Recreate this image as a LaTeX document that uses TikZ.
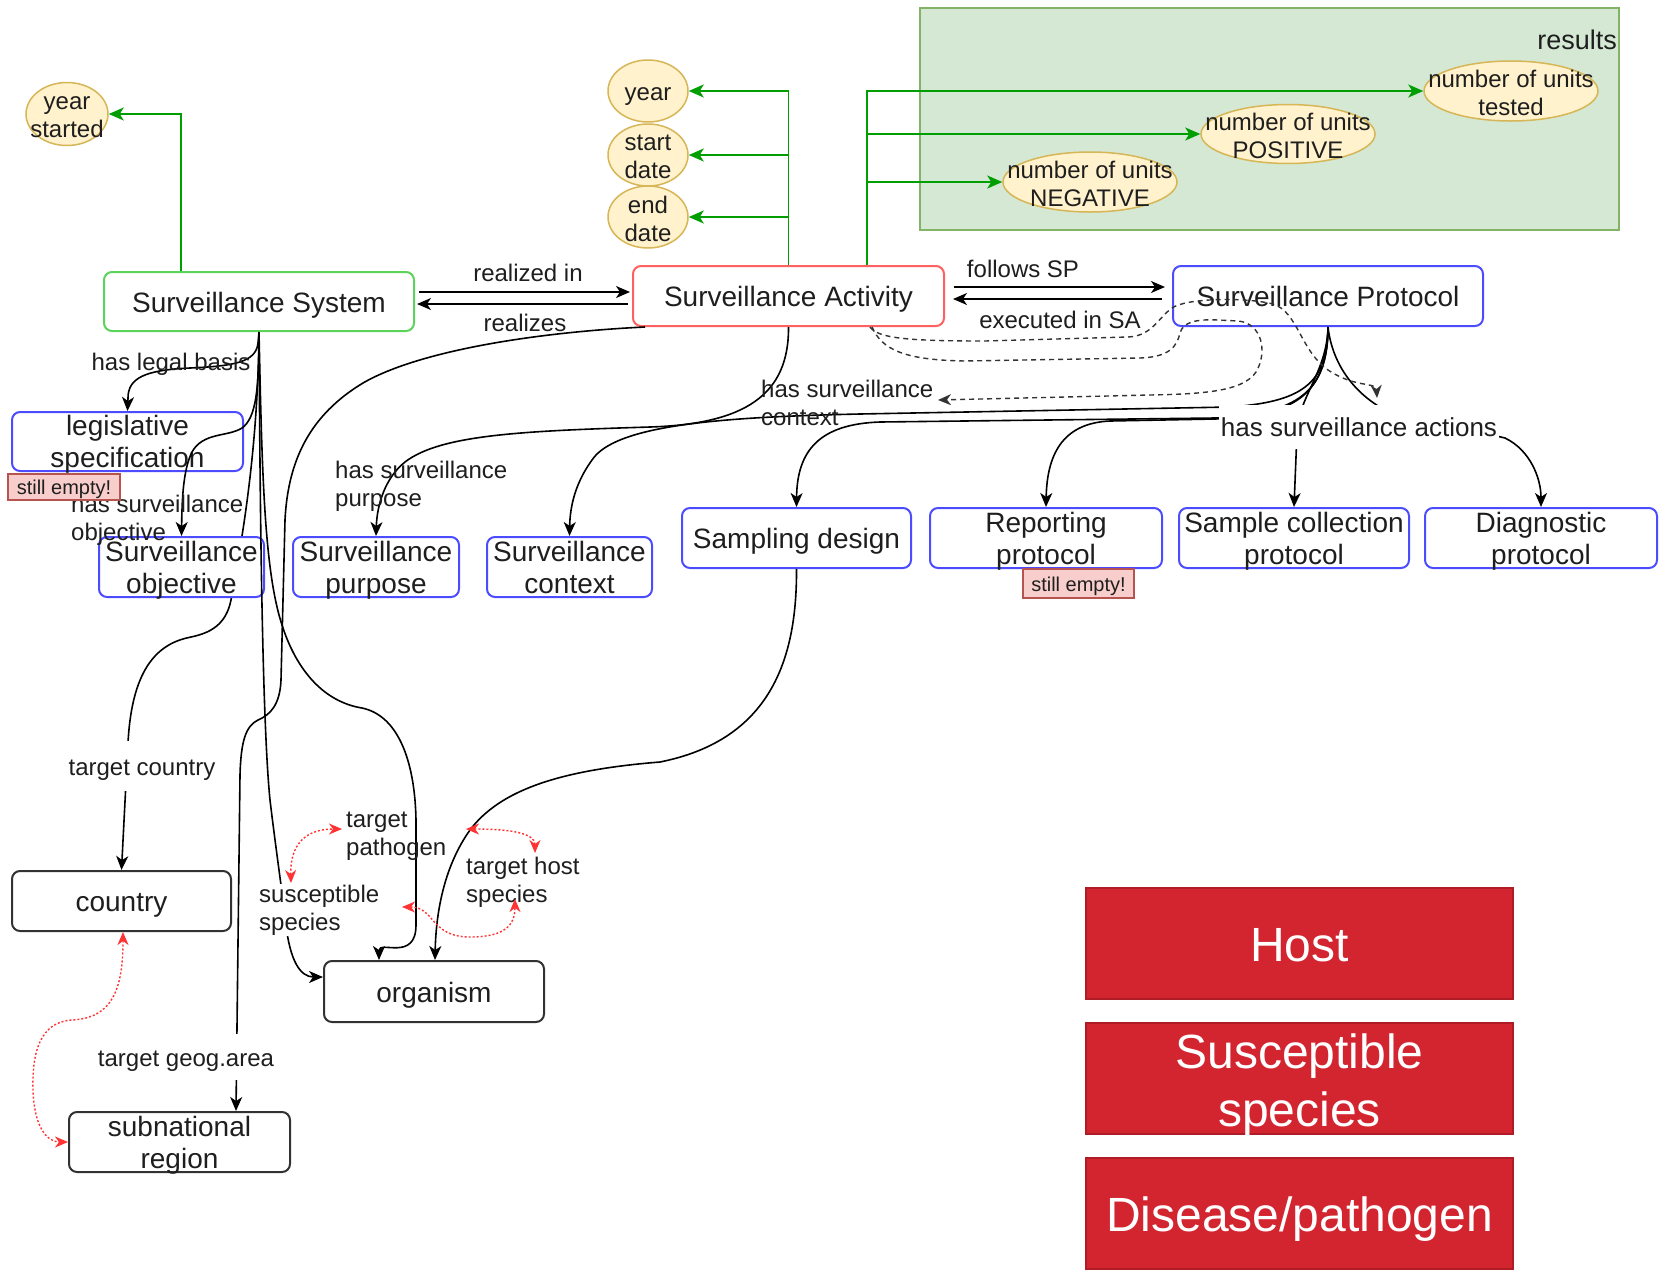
\documentclass[tikz,border=0pt]{standalone}
\usepackage{fontspec}
\setmainfont{Liberation Sans}
\usetikzlibrary{arrows.meta,calc,shapes.geometric}

\definecolor{ssgreen}{RGB}{92,212,92}
\definecolor{sared}{RGB}{255,96,96}
\definecolor{spblue}{RGB}{76,76,255}
\definecolor{entdraw}{RGB}{50,50,50}
\definecolor{edgegreen}{RGB}{0,158,0}
\definecolor{attrfill}{RGB}{255,242,204}
\definecolor{attrdraw}{RGB}{214,182,86}
\definecolor{resfill}{RGB}{213,232,212}
\definecolor{resdraw}{RGB}{130,179,102}
\definecolor{notefill}{RGB}{248,206,204}
\definecolor{notedraw}{RGB}{184,84,80}
\definecolor{catfill}{RGB}{211,37,48}
\definecolor{catdraw}{RGB}{176,28,38}
\definecolor{linkred}{RGB}{255,51,51}
\definecolor{ink}{RGB}{30,30,30}

% a strut of full line height, so that one-line text is centred on its line box
\newcommand{\linestrut}{\rule[-0.25em]{0pt}{1.25em}}

\tikzset{
  txt/.style={execute at begin node=\linestrut},
  box/.style={rectangle, rounded corners=8pt, draw, line width=2pt, fill=white,
    text=ink, align=center, inner sep=0pt, txt, font=\fontsize{28}{32}\selectfont},
  boxtxt/.style={align=center, text=ink, inner sep=0pt, yshift=-3pt,
    font=\fontsize{28}{32}\selectfont},
  sysbox/.style={box, draw=ssgreen},
  actbox/.style={box, draw=sared},
  protbox/.style={box, draw=spblue},
  entbox/.style={box, draw=entdraw},
  attr/.style={ellipse, draw=attrdraw, fill=attrfill, line width=1.5pt, inner sep=0pt},
  attrtxt/.style={align=center, text=ink, inner sep=0pt, txt, font=\fontsize{24}{28}\selectfont},
  attrtxt2/.style={align=center, text=ink, inner sep=0pt, yshift=-1.5pt, font=\fontsize{24}{28}\selectfont},
  lbl/.style={text=ink, inner sep=1pt, txt, font=\fontsize{24}{28}\selectfont},
  mlbl/.style={text=ink, inner sep=1pt, align=left, anchor=west, font=\fontsize{24}{28}\selectfont},
  panel/.style={rectangle, draw=resdraw, fill=resfill, line width=1.5pt, inner sep=0pt},
  note/.style={rectangle, draw=notedraw, fill=notefill, line width=1.2pt, text=ink,
    inner sep=0pt, txt, font=\fontsize{20}{24}\selectfont},
  cat/.style={rectangle, draw=catdraw, fill=catfill, line width=1.5pt, text=white,
    align=center, inner sep=0pt, minimum width=427pt, minimum height=111pt, txt,
    font=\fontsize{48}{58}\selectfont},
  cattxt/.style={align=center, text=white, inner sep=0pt, yshift=-7pt,
    font=\fontsize{48}{58}\selectfont},
  rel/.style={draw=black, line width=1.6pt, -{Stealth[length=14pt,width=12pt,inset=4pt]}},
  attrlink/.style={draw=edgegreen, line width=1.8pt, -{Stealth[length=15pt,width=13pt,inset=4pt]}},
  dashlink/.style={draw=black!80, line width=1.4pt, dash pattern=on 5pt off 4pt,
    -{Stealth[length=13pt,width=11pt,inset=4pt]}},
  redlink/.style={draw=linkred, line width=1.4pt, dash pattern=on 2pt off 2pt,
    {Stealth[length=13pt,width=11pt,inset=4pt]}-{Stealth[length=13pt,width=11pt,inset=4pt]}},
}

\begin{document}
\begin{tikzpicture}[x=1pt,y=-1pt]
\fill[white] (0,0) rectangle (1665,1275);
\useasboundingbox (0,0) rectangle (1665,1275);

% results panel
\node[panel, minimum width=699pt, minimum height=222pt] (res) at (1269.5,119) {};
\node[lbl, anchor=east, font=\fontsize{27}{30}\selectfont] (restitle) at (1618,39) {results};

% main classes
\node[sysbox, minimum width=310pt, minimum height=59pt] (ss) at (259,301.5) {Surveillance System};
\node[actbox, minimum width=311pt, minimum height=60pt] (sa) at (788.5,296) {Surveillance Activity};
\node[protbox, minimum width=310pt, minimum height=60pt] (sp) at (1328,296) {Surveillance Protocol};
\node[entbox, minimum width=219pt, minimum height=60pt] (cty) at (121.5,901) {country};

% target country runs behind the objective box
\draw[rel] (ss.south) .. controls (258,450) and (242,540) .. (231,600)
  .. controls (226,625) and (210,633) .. (191,637)
  .. controls (160,643) and (132,665) .. (128,743) -- (cty.north);

\node[protbox, minimum width=231pt, minimum height=59pt, label={[boxtxt]center:legislative\\specification}] (leg) at (127.5,441.5) {};
\node[protbox, minimum width=165pt, minimum height=60pt, label={[boxtxt]center:Surveillance\\objective}] (obj) at (181.5,567) {};
\node[protbox, minimum width=166pt, minimum height=60pt, label={[boxtxt]center:Surveillance\\purpose}] (pur) at (376,567) {};
\node[protbox, minimum width=165pt, minimum height=60pt, label={[boxtxt, yshift=3pt]center:Surveillance\\context}] (ctx) at (569.5,567) {};
\node[protbox, minimum width=229pt, minimum height=60pt] (sd) at (796.5,538) {Sampling design};
\node[protbox, minimum width=232pt, minimum height=60pt, label={[boxtxt]center:Reporting\\protocol}] (rp) at (1046,538) {};
\node[protbox, minimum width=230pt, minimum height=60pt, label={[boxtxt]center:Sample collection\\protocol}] (scp) at (1294,538) {};
\node[protbox, minimum width=232pt, minimum height=60pt, label={[boxtxt]center:Diagnostic\\protocol}] (dp) at (1541,538) {};
\node[entbox, minimum width=220pt, minimum height=61pt] (org) at (434,991.5) {organism};
\node[entbox, minimum width=221pt, minimum height=60pt, label={[boxtxt]center:subnational\\region}] (sub) at (179.5,1142) {};

% attributes
\node[attr, minimum width=82pt, minimum height=63pt, label={[attrtxt2, yshift=-2pt]center:year\\started}] (ys) at (67,114) {};
\node[attr, minimum width=80pt, minimum height=62pt, label={[attrtxt]center:year}] (yr) at (648,91) {};
\node[attr, minimum width=80pt, minimum height=62pt, label={[attrtxt2]center:start\\date}] (sdt) at (648,155) {};
\node[attr, minimum width=80pt, minimum height=62pt, label={[attrtxt2]center:end\\date}] (edt) at (648,217) {};
\node[attr, minimum width=174pt, minimum height=60pt, label={[attrtxt2]center:number of units\\tested}] (nt) at (1511,91) {};
\node[attr, minimum width=174pt, minimum height=59pt, label={[attrtxt2]center:number of units\\POSITIVE}] (np) at (1288,134) {};
\node[attr, minimum width=174pt, minimum height=60pt, label={[attrtxt2]center:number of units\\NEGATIVE}] (nn) at (1090,182) {};

% attribute links
\draw[attrlink] ([xshift=-78pt]ss.north) |- (ys);
\draw[attrlink] (sa.north) |- (yr);
\draw[attrlink] (sa.north) |- (sdt);
\draw[attrlink] (sa.north) |- (edt);
\draw[attrlink] ([xshift=78.5pt]sa.north) |- (nt);
\draw[attrlink] ([xshift=78.5pt]sa.north) |- (np);
\draw[attrlink] ([xshift=78.5pt]sa.north) |- (nn);

% straight relations between the three main classes
\draw[rel, shorten <=4pt, shorten >=2pt] (ss.east |- 0,292) -- (sa.west |- 0,292);
\draw[rel, shorten <=4pt, shorten >=2pt] (sa.west |- 0,304) -- (ss.east |- 0,304);
\draw[rel, shorten <=9pt, shorten >=7pt] (sa.east |- 0,287) -- (sp.west |- 0,287);
\draw[rel, shorten <=10pt, shorten >=8pt] (sp.west |- 0,299) -- (sa.east |- 0,299);

% relations of the surveillance system
\draw[rel] (ss.south) -- (258,343) .. controls (256,362) and (235,366) .. (190,368)
  .. controls (145,370) and (128,378) .. (128,398) -- (leg.north);
\draw[rel] (ss.south) .. controls (259,390) and (256,418) .. (242,428)
  .. controls (228,437) and (203,432) .. (192,452)
  .. controls (183,470) and (182,500) .. (obj.north);
\draw[rel] (ss.south) .. controls (260,500) and (262,720) .. (270,800)
  .. controls (276,850) and (282,890) .. (286,925)
  .. controls (290,960) and (300,977) .. (org.west |- 0,977);
\draw[rel] (ss.south) .. controls (262,470) and (264,570) .. (282,625)
  .. controls (297,672) and (325,702) .. (362,708)
  .. controls (400,716) and (415,765) .. (416,820) -- (416,925)
  .. controls (416,962) and (379,940) .. (org.north -| 379,0);

% relations of the surveillance activity
\draw[rel] (sa.south -| 645,0) .. controls (540,332) and (420,350) .. (363,383)
  .. controls (310,415) and (288,460) .. (285,520) -- (281,680)
  .. controls (280,705) and (270,715) .. (258,720)
  .. controls (246,726) and (241,740) .. (240,775) -- (sub.north -| 236,0);
\draw[rel] (sa.south) .. controls (789,395) and (745,424) .. (650,427)
  .. controls (520,431) and (440,435) .. (405,462)
  .. controls (385,478) and (377,505) .. (pur.north);

% relations of the surveillance protocol
\draw[rel] (sp.south) .. controls (1328,385) and (1300,402) .. (1230,407) -- (860,414)
  .. controls (720,417) and (615,425) .. (592,460)
  .. controls (576,482) and (570,505) .. (ctx.north);
\draw[rel] (sp.south) .. controls (1328,392) and (1298,414) .. (1215,418) -- (880,422)
  .. controls (820,424) and (797,450) .. (sd.north);
\draw[rel] (sp.south) .. controls (1327,394) and (1296,416) .. (1215,419) -- (1110,421)
  .. controls (1066,423) and (1047,450) .. (rp.north);
\draw[rel] (sp.south) .. controls (1327,372) and (1298,398) .. (1297,432) -- (scp.north);
\draw[rel] (sp.south) .. controls (1332,362) and (1352,392) .. (1385,410) -- (1505,438)
  .. controls (1530,450) and (1541,478) .. (dp.north);

% sampling design to organism
\draw[rel] (sd.south) .. controls (797,660) and (770,740) .. (660,762)
  .. controls (560,770) and (500,790) .. (470,830)
  .. controls (445,865) and (436,910) .. (org.north -| 435,0);

% dashed links
\coordinate (dA) at (1377,398);
\coordinate (dB) at (938,400);
\draw[dashlink] (sa.south -| 870,0) .. controls (878,338) and (905,341) .. (985,341) -- (1128,337)
  .. controls (1152,336) and (1158,318) .. (1172,308)
  .. controls (1186,298) and (1245,297) .. (1273,304)
  .. controls (1298,312) and (1300,350) .. (1328,370)
  .. controls (1355,388) and (1376,382) .. (dA);
\draw[dashlink] (sa.south -| 872,0) .. controls (882,350) and (905,360) .. (965,361) -- (1140,358)
  .. controls (1170,357) and (1177,346) .. (1180,333)
  .. controls (1183,322) and (1196,319) .. (1218,320) -- (1238,321)
  .. controls (1262,323) and (1268,352) .. (1256,372)
  .. controls (1243,392) and (1200,394) .. (1150,395) -- (dB);

% relation labels
\node[lbl] (l-ri) at (528,272) {realized in};
\node[lbl] (l-rz) at (525,322) {realizes};
\node[lbl] (l-fs) at (1023,268) {follows SP};
\node[lbl] (l-ex) at (1060,319) {executed in SA};
\node[lbl] (l-lb) at (171,361) {has legal basis};
\node[mlbl] (l-ob) at (70,520) {has surveillance\\objective};
\node[mlbl] (l-pu) at (334,486) {has surveillance\\purpose};
\node[mlbl] (l-cx) at (760,403) {has surveillance\\context};
\node[lbl, fill=white, inner xsep=2pt, inner ysep=6pt, font=\fontsize{26}{30}\selectfont] (l-ac) at (1359,427) {has surveillance actions};
\node[lbl, fill=white, inner xsep=2pt, inner ysep=10pt] (l-tc) at (142,766) {target country};
\node[lbl, fill=white, inner xsep=2pt, inner ysep=8pt] (l-tg) at (186,1057) {target geog.area};
\node[mlbl] (l-tp) at (345,836) {target\\pathogen};
\node[mlbl, fill=white] (l-su) at (258,910) {susceptible\\species};
\node[mlbl] (l-th) at (465,882) {target host\\species};

% red dotted associations
\coordinate (r1a) at (291,883);
\coordinate (r1b) at (342,829);
\coordinate (r2a) at (466,829);
\coordinate (r2b) at (535,853);
\coordinate (r3a) at (402,907);
\coordinate (r3b) at (515,899);
\draw[redlink] (r1a) .. controls (290,845) and (305,829) .. (r1b);
\draw[redlink] (r2a) .. controls (505,829) and (535,832) .. (r2b);
\draw[redlink] (r3a) .. controls (435,907) and (430,937) .. (470,937)
  .. controls (505,937) and (515,925) .. (r3b);
\draw[redlink] (cty.south -| 123,0) .. controls (123,990) and (112,1018) .. (72,1020)
  .. controls (40,1022) and (32,1052) .. (33,1090)
  .. controls (34,1125) and (46,1142) .. (sub.west);

% notes
\node[note, minimum width=112pt, minimum height=26pt] (se1) at (64,487) {still empty!};
\node[note, minimum width=111pt, minimum height=29pt] (se2) at (1078.5,583.5) {still empty!};

% categories
\node[cat] (c-host) at (1299.5,943.5) {Host};
\node[cat, label={[cattxt]center:Susceptible\\species}] (c-sus) at (1299.5,1078.5) {};
\node[cat] (c-dis) at (1299.5,1213.5) {Disease/pathogen};
\end{tikzpicture}
\end{document}
